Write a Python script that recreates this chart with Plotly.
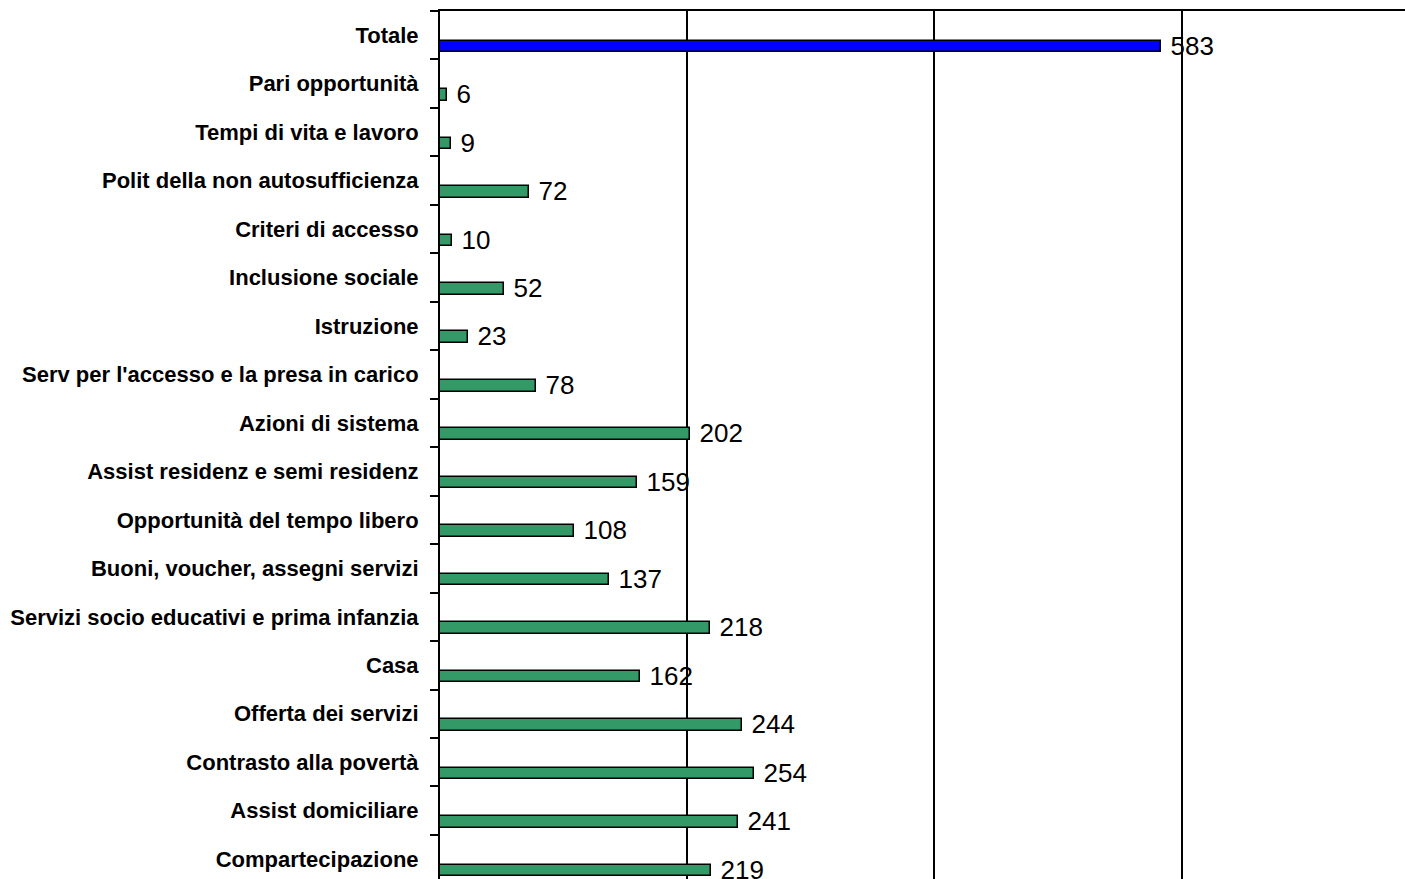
import plotly.graph_objects as go

# categories from top to bottom, as in the picture
categories = [
    "Totale",
    "Pari opportunità",
    "Tempi di vita e lavoro",
    "Polit della non autosufficienza",
    "Criteri di accesso",
    "Inclusione sociale",
    "Istruzione",
    "Serv per l'accesso e la presa in carico",
    "Azioni di sistema",
    "Assist residenz e semi residenz",
    "Opportunità del tempo libero",
    "Buoni, voucher, assegni servizi",
    "Servizi socio educativi e prima infanzia",
    "Casa",
    "Offerta dei servizi",
    "Contrasto alla povertà",
    "Assist domiciliare",
    "Compartecipazione",
]
values = [583, 6, 9, 72, 10, 52, 23, 78, 202, 159, 108, 137, 218, 162, 244, 254, 241, 219]
x_gridlines = [0, 200, 400, 600]

bar_colors = ['#0000ff' if c == 'Totale' else '#339966' for c in categories]

fig = go.Figure()
fig.add_trace(go.Bar(
    x=values,
    y=categories,
    orientation='h',
    marker=dict(color=bar_colors, line=dict(color='black', width=1.5)),
    width=0.24,
    offset=0.112,
    texttemplate='\u00a0%{x}',
    textposition='outside',
    constraintext='none',
    cliponaxis=False,
    textfont=dict(family='Liberation Sans Narrow, Arial Narrow, Liberation Sans, Arial, sans-serif',
                  size=26, color='black'),
    showlegend=False,
))

fig.update_layout(
    width=1405,
    height=879,
    margin=dict(l=440, r=0, t=11, b=0),
    plot_bgcolor='white',
    paper_bgcolor='white',
    bargap=0,
)
fig.update_xaxes(
    side='top',
    range=[0, 780.6],
    tickvals=x_gridlines,
    showticklabels=False,
    ticks='',
    showgrid=True,
    gridcolor='black',
    gridwidth=1.5,
    zeroline=False,
    showline=True,
    linecolor='black',
    linewidth=1.5,
)
fig.update_yaxes(
    type='category',
    range=[17.41, -0.5],
    showline=True,
    linecolor='black',
    linewidth=2,
    ticks='outside',
    tickson='boundaries',
    ticklen=8,
    tickwidth=1.5,
    tickcolor='black',
    showgrid=False,
    ticklabelstandoff=15,
    tickfont=dict(family='Liberation Sans, Arial, sans-serif', size=22, color='black', weight='bold'),
)

# page without the default body margin, so the figure sits at the window corner
fig.write_html("out.html",
               config={'displayModeBar': False},
               post_script="document.body.style.margin='0';document.body.style.overflow='hidden';")
